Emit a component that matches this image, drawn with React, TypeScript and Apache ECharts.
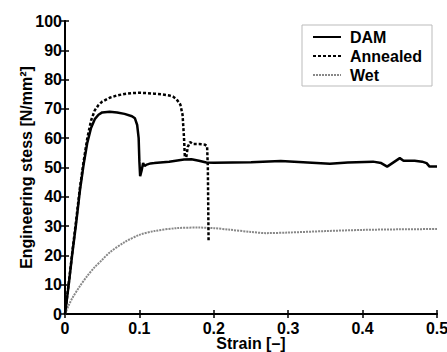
import React, { useEffect, useRef } from "react";
import * as echarts from "echarts";

const damStrain = [0, 0.005, 0.01, 0.015, 0.02, 0.025, 0.03, 0.035, 0.04, 0.045, 0.05, 0.06, 0.07, 0.08, 0.09, 0.094, 0.097, 0.099, 0.1, 0.101, 0.103, 0.105, 0.107, 0.11, 0.115, 0.12, 0.14, 0.16, 0.17, 0.18, 0.19, 0.2, 0.25, 0.29, 0.32, 0.356, 0.38, 0.414, 0.425, 0.433, 0.44, 0.45, 0.455, 0.47, 0.48, 0.486, 0.49, 0.5];
const damStress = [0, 10, 21, 31, 42, 51, 58.5, 63.5, 66.5, 68, 68.8, 69, 68.8, 68.3, 67.5, 66.8, 64.5, 60, 52, 47, 49, 51.5, 50.5, 51, 51.4, 51.5, 52, 52.7, 52.8, 52.3, 51.7, 51.6, 51.8, 52.2, 51.8, 51.3, 51.7, 52, 51.5, 50.3, 51.5, 53.2, 52.3, 52.3, 52, 51.5, 50.3, 50.3];

const annStrain = [0, 0.005, 0.01, 0.015, 0.02, 0.025, 0.03, 0.035, 0.04, 0.045, 0.05, 0.06, 0.07, 0.08, 0.09, 0.1, 0.11, 0.12, 0.13, 0.14, 0.145, 0.15, 0.155, 0.158, 0.16, 0.161, 0.163, 0.165, 0.168, 0.172, 0.18, 0.188, 0.191, 0.192, 0.193];
const annStress = [0, 10.5, 21.5, 32, 43, 52, 60, 66, 69.5, 71.3, 72.5, 73.8, 74.6, 75.1, 75.4, 75.5, 75.4, 75.2, 75, 74.6, 74.2, 73.3, 71.5, 68, 60, 54, 53.5, 57, 58.7, 58, 58, 57.8, 57.3, 50, 24.5];

const wetStrain = [0, 0.005, 0.01, 0.02, 0.03, 0.04, 0.05, 0.06, 0.08, 0.1, 0.12, 0.15, 0.18, 0.2, 0.22, 0.25, 0.27, 0.3, 0.35, 0.4, 0.45, 0.5];
const wetStress = [0, 3, 5.5, 9.5, 13, 16, 18.5, 21, 24.5, 27, 28.3, 29.3, 29.5, 29.3, 28.8, 28, 27.6, 27.8, 28.3, 28.7, 28.9, 29];

const xTicks = ["0", "0.1", "0.2", "0.3", "0.4", "0.5"];

const pairs = (xs: number[], ys: number[]) => xs.map((x, i) => [x, ys[i]]);

const FONT = "Liberation Sans";

export default function App() {
  const ref = useRef<HTMLDivElement>(null);
  useEffect(() => {
    if (!ref.current) return;
    const chart = echarts.init(ref.current, null, { renderer: "svg" });
    const axisCommon = {
      axisLine: { show: true, lineStyle: { color: "#000", width: 2 } },
      axisTick: { show: true, inside: true, length: 4, lineStyle: { color: "#000", width: 1.5 } },
      splitLine: { show: false },
    };
    const txt = { fontFamily: FONT, fontSize: 16, fontWeight: "bold", color: "#000" };
    chart.setOption({
      animation: false,
      backgroundColor: "#fff",
      grid: { left: 65, right: 10, top: 21, bottom: 38, containLabel: false, outerBoundsMode: "none" },
      legend: {
        orient: "vertical",
        left: 302,
        top: 25,
        padding: [3, 10, 2, 10],
        itemGap: 1,
        itemWidth: 28,
        itemHeight: 12,
        icon: "inherit",
        itemStyle: { opacity: 0 },
        backgroundColor: "#fff",
        borderColor: "#bbb",
        borderWidth: 1,
        textStyle: { ...txt, lineHeight: 18, padding: [0, 0, 0, 4] },
        data: ["DAM", "Annealed", "Wet"],
      },
      xAxis: [
        {
          type: "value",
          min: 0,
          max: 0.5,
          interval: 0.1,
          position: "bottom",
          name: "Strain [\u2013]",
          nameLocation: "middle",
          nameGap: 21,
          nameMoveOverlap: false,
          nameTextStyle: txt,
          axisLabel: {
            ...txt,
            margin: 6,
            formatter: (v: number) => xTicks[Math.round(v * 10)] ?? "",
          },
          ...axisCommon,
        },
        {
          type: "value",
          min: 0,
          max: 0.5,
          interval: 0.1,
          position: "top",
          axisLabel: { show: false },
          ...axisCommon,
          axisLine: { show: true, lineStyle: { color: "#000", width: 1.5 } },
        },
      ],
      yAxis: [
        {
          type: "value",
          min: 0,
          max: 100,
          interval: 10,
          position: "left",
          name: "Engineering stess [N/mm\u00b2]",
          nameLocation: "middle",
          nameGap: 31,
          nameMoveOverlap: false,
          nameTextStyle: txt,
          axisLabel: { ...txt, margin: 3 },
          ...axisCommon,
        },
        {
          type: "value",
          min: 0,
          max: 100,
          interval: 10,
          position: "right",
          axisLabel: { show: false },
          ...axisCommon,
          axisLine: { show: true, lineStyle: { color: "#000", width: 1.5 } },
        },
      ],
      series: [
        {
          name: "Wet",
          type: "line",
          data: pairs(wetStrain, wetStress),
          symbol: "none",
          smooth: 0.3,
          color: "#999",
          lineStyle: { color: "#888", width: 2, type: [2, 1] },
          z: 2,
        },
        {
          name: "Annealed",
          type: "line",
          data: pairs(annStrain, annStress),
          symbol: "none",
          color: "#000",
          lineStyle: { color: "#000", width: 2.5, type: [3, 2] },
          z: 3,
        },
        {
          name: "DAM",
          type: "line",
          data: pairs(damStrain, damStress),
          symbol: "none",
          color: "#000",
          lineStyle: { color: "#000", width: 2.5 },
          z: 4,
        },
      ],
    });
    return () => chart.dispose();
  }, []);
  return <div ref={ref} style={{ position: "fixed", left: 0, top: 0, width: 447, height: 352 }} />;
}
